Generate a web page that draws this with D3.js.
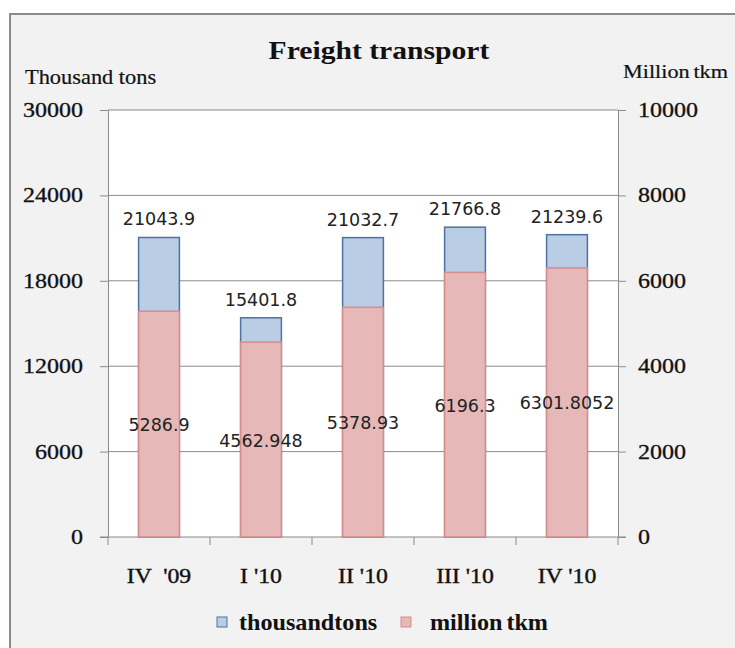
<!DOCTYPE html>
<html>
<head>
<meta charset="utf-8">
<script src="https://cdn.jsdelivr.net/npm/d3@7"></script>
<style>
  body { margin: 0; background: #fff; }
  svg text { white-space: pre; }
</style>
</head>
<body>
<div id="chart"></div>
<script>
const categories = ["IV  '09", "I '10", "II '10", "III '10", "IV '10"]
const thousandTons = [21043.9, 15401.8, 21032.7, 21766.8, 21239.6]
const millionTkm = [5286.9, 4562.948, 5378.93, 6196.3, 6301.8052]
const leftTicks = [0, 6000, 12000, 18000, 24000, 30000]
const rightTicks = [0, 2000, 4000, 6000, 8000, 10000]
const seriesNames = ['thousandtons', 'million tkm']

;(function drawChart() {
  const WIDTH = 735
  const HEIGHT = 648
  const plot = {left: 108, right: 618, top: 110, bottom: 537}
  const serif = '"Liberation Serif", "Times New Roman", serif'
  const sans = '"DejaVu Sans", Verdana, sans-serif'
  const ink = '#111'
  const gridColor = '#8a8a8a'
  const blue = {fill: '#b9cde5', stroke: '#4f72a0'}
  const red = {fill: '#e6b9b8', stroke: '#d58d8b'}

  // the reference text is a bit wider than Liberation Serif, stretch it around its anchor
  const stretch = (sel, sx) => {
    sel.each(function () {
      const x = +this.getAttribute('x') || 0
      d3.select(this).attr('transform', 'translate(' + x + ',0) scale(' + sx + ',1) translate(' + (-x) + ',0)')
    })
  }

  const svg = d3.select('#chart')
    .append('svg')
    .attr('width', WIDTH)
    .attr('height', HEIGHT)

  // frame
  svg.append('rect')
    .attr('x', 10).attr('y', 14)
    .attr('width', WIDTH).attr('height', HEIGHT)
    .attr('fill', '#f2f2f2')
    .attr('stroke', '#8c8c8c')
    .attr('stroke-width', 2)

  svg.append('rect')
    .attr('x', plot.left).attr('y', plot.top)
    .attr('width', plot.right - plot.left)
    .attr('height', plot.bottom - plot.top)
    .attr('fill', '#fff')

  const x = d3.scaleBand()
    .domain(categories)
    .range([plot.left, plot.right])
    .paddingInner(0.6)
    .paddingOuter(0.3)

  const yLeft = d3.scaleLinear().domain([0, 30000]).range([plot.bottom, plot.top])
  const yRight = d3.scaleLinear().domain([0, 10000]).range([plot.bottom, plot.top])

  // gridlines
  svg.append('g')
    .selectAll('line')
    .data(leftTicks.slice(1))
    .enter()
    .append('line')
    .attr('x1', plot.left).attr('x2', plot.right)
    .attr('y1', (d) => yLeft(d)).attr('y2', (d) => yLeft(d))
    .attr('stroke', gridColor)
    .attr('stroke-width', 1)

  // axes
  const leftAxis = svg.append('g')
    .attr('transform', 'translate(' + plot.left + ',0)')
    .call(d3.axisLeft(yLeft).tickValues(leftTicks).tickSize(8).tickPadding(17).tickSizeOuter(0).tickFormat((d) => d))
  const rightAxis = svg.append('g')
    .attr('transform', 'translate(' + plot.right + ',0)')
    .call(d3.axisRight(yRight).tickValues(rightTicks).tickSize(8).tickPadding(12).tickSizeOuter(0).tickFormat((d) => d))

  ;[leftAxis, rightAxis].forEach((axis) => {
    axis.select('.domain').attr('stroke', gridColor)
    axis.selectAll('.tick line').attr('stroke', gridColor)
    axis.selectAll('.tick text')
      .attr('font-family', serif)
      .attr('font-size', 20)
      .attr('fill', ink)
      .attr('stroke', ink)
      .attr('stroke-width', 0.3)
      .call(stretch, 1.2)
  })

  // x axis with ticks between categories
  const bottomAxis = svg.append('g')
  bottomAxis.append('line')
    .attr('x1', plot.left - 8).attr('x2', plot.right + 8)
    .attr('y1', plot.bottom).attr('y2', plot.bottom)
    .attr('stroke', gridColor)
  const step = x.step()
  const boundaries = d3.range(categories.length + 1).map((i) => plot.left + i * step)
  bottomAxis.selectAll('line.tick')
    .data(boundaries)
    .enter()
    .append('line')
    .attr('class', 'tick')
    .attr('x1', (d) => d).attr('x2', (d) => d)
    .attr('y1', plot.bottom).attr('y2', plot.bottom + 8)
    .attr('stroke', gridColor)
  bottomAxis.selectAll('text')
    .data(categories)
    .enter()
    .append('text')
    .attr('x', (d) => x(d) + x.bandwidth() / 2)
    .attr('y', 583)
    .attr('text-anchor', 'middle')
    .attr('font-family', serif)
    .attr('font-size', 22)
    .attr('fill', ink)
    .attr('stroke', ink)
    .attr('stroke-width', 0.4)
    .text((d) => d)
    .call(stretch, 1.08)

  // bars: thousand tons (left axis) behind, million tkm (right axis) in front
  svg.append('g')
    .selectAll('rect')
    .data(thousandTons)
    .enter()
    .append('rect')
    .attr('x', (d, i) => x(categories[i]))
    .attr('y', (d) => yLeft(d))
    .attr('width', x.bandwidth())
    .attr('height', (d) => plot.bottom - yLeft(d))
    .attr('fill', blue.fill)
    .attr('stroke', blue.stroke)
    .attr('stroke-width', 1.5)

  svg.append('g')
    .selectAll('rect')
    .data(millionTkm)
    .enter()
    .append('rect')
    .attr('x', (d, i) => x(categories[i]))
    .attr('y', (d) => yRight(d))
    .attr('width', x.bandwidth())
    .attr('height', (d) => plot.bottom - yRight(d))
    .attr('fill', red.fill)
    .attr('stroke', red.stroke)
    .attr('stroke-width', 1.5)

  // value labels
  svg.append('g')
    .selectAll('text')
    .data(thousandTons)
    .enter()
    .append('text')
    .attr('x', (d, i) => x(categories[i]) + x.bandwidth() / 2)
    .attr('y', (d) => yLeft(d) - 12)
    .attr('text-anchor', 'middle')
    .attr('font-family', sans)
    .attr('font-size', 17.5)
    .attr('fill', '#222')
    .text((d) => d)

  svg.append('g')
    .selectAll('text')
    .data(millionTkm)
    .enter()
    .append('text')
    .attr('x', (d, i) => x(categories[i]) + x.bandwidth() / 2)
    .attr('y', (d) => (yRight(d) + plot.bottom) / 2 + 7)
    .attr('text-anchor', 'middle')
    .attr('font-family', sans)
    .attr('font-size', 17.5)
    .attr('fill', '#222')
    .text((d) => d)

  // titles
  svg.append('text')
    .attr('x', 379).attr('y', 59)
    .attr('text-anchor', 'middle')
    .attr('font-family', serif)
    .attr('font-weight', 'bold')
    .attr('font-size', 26)
    .attr('fill', ink)
    .text('Freight transport')
    .call(stretch, 1.14)

  svg.append('text')
    .attr('x', 25).attr('y', 84)
    .attr('font-family', serif)
    .attr('font-size', 20)
    .attr('fill', ink)
    .attr('stroke', ink)
    .attr('stroke-width', 0.2)
    .text('Thousand tons')
    .call(stretch, 1.12)

  svg.append('text')
    .attr('x', 623).attr('y', 78)
    .attr('font-family', serif)
    .attr('font-size', 19)
    .attr('fill', ink)
    .attr('stroke', ink)
    .attr('stroke-width', 0.2)
    .attr('word-spacing', -1.5)
    .text('Million tkm')
    .call(stretch, 1.17)

  // legend
  const legendItems = [
    {name: seriesNames[0], color: blue, x: 217, tx: 239},
    {name: seriesNames[1], color: red, x: 401, tx: 430},
  ]
  const legend = svg.append('g')
  legend.selectAll('rect')
    .data(legendItems)
    .enter()
    .append('rect')
    .attr('x', (d) => d.x).attr('y', 617)
    .attr('width', 10).attr('height', 10)
    .attr('fill', (d) => d.color.fill)
    .attr('stroke', (d) => d.color.stroke)
  legend.selectAll('text')
    .data(legendItems)
    .enter()
    .append('text')
    .attr('x', (d) => d.tx).attr('y', 630)
    .attr('font-family', serif)
    .attr('font-weight', 'bold')
    .attr('font-size', 23)
    .attr('fill', ink)
    .attr('word-spacing', -2)
    .text((d) => d.name)
    .call(stretch, 1.05)
})()
</script>
</body>
</html>
